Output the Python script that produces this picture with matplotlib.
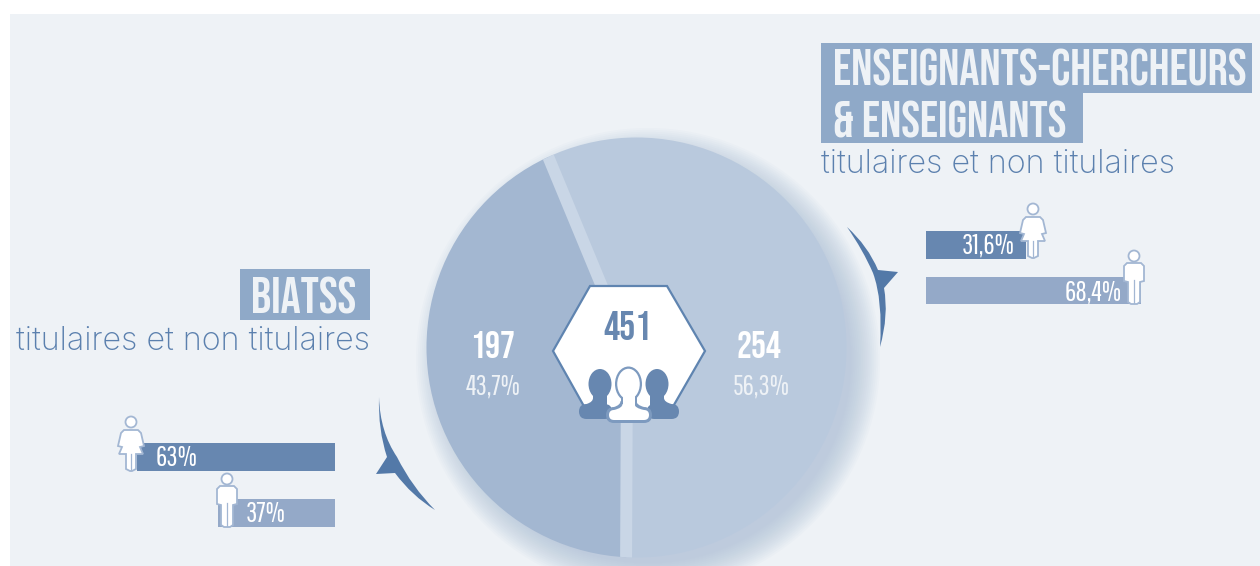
import matplotlib
matplotlib.use('Agg')
import matplotlib.pyplot as plt
import matplotlib.patches as patches
from matplotlib.path import Path
import numpy as np

# donnees
totals = [254, 197]
total_label = '451'
total_texts = ['254', '197']
share_texts = ['56,3%', '43,7%']
ens_gender = [31.6, 68.4]
ens_gender_txt = ['31,6%', '68,4%']
biatss_gender = [63, 37]
biatss_gender_txt = ['63%', '37%']
title_ens = ['ENSEIGNANTS-CHERCHEURS', '& ENSEIGNANTS']
title_biatss = 'BIATSS'
subtitle = 'titulaires et non titulaires'

BG = '#eef2f6'
DARK = '#6787b0'
LIGHT = '#94a9c8'
BOX = '#8fa9c8'
TXT_BLUE = '#5b80ae'
ARROW = '#5379a8'
HEAD_FONT = ['Bebas Neue', 'DejaVu Sans']
THIN_FONT = ['Pathway Gothic One', 'DejaVu Sans']

fig = plt.figure(figsize=(12.6, 5.66), dpi=100)
ax = fig.add_axes([0, 0, 1, 1])


def curve(points, color, z=6):
    verts, codes = [points[0]], [Path.MOVETO]
    for p in points[1:]:
        if len(p) == 4:
            verts += [(p[0], p[1]), (p[2], p[3])]
            codes += [Path.CURVE3, Path.CURVE3]
        else:
            verts.append(p)
            codes.append(Path.LINETO)
    verts.append(points[0])
    codes.append(Path.CLOSEPOLY)
    ax.add_patch(patches.PathPatch(Path(verts, codes), facecolor=color, edgecolor='none', zorder=z))


def woman(cx, top):
    ec = '#a3b7d3'
    pts = [(cx-7, top+14), (cx+7, top+14), (cx+10, top+17), (cx+13, top+30), (cx+9, top+31),
           (cx+12, top+38), (cx+5, top+38), (cx+5, top+53), (cx+1, top+55), (cx-1, top+55),
           (cx-5, top+53), (cx-5, top+38), (cx-12, top+38), (cx-9, top+31), (cx-13, top+30), (cx-10, top+17)]
    ax.add_patch(patches.Polygon(pts, closed=True, facecolor='white', edgecolor=ec, lw=1.3, zorder=7))
    ax.add_patch(patches.Circle((cx, top+6), 5.5, facecolor='white', edgecolor=ec, lw=1.3, zorder=7))
    ax.plot([cx, cx], [top+38, top+54], color=ec, lw=0.9, zorder=8)


def man(cx, top):
    ec = '#a3b7d3'
    pts = [(cx-7, top+13), (cx+7, top+13), (cx+10, top+16), (cx+10, top+31), (cx+6, top+32),
           (cx+6, top+52), (cx+3, top+54), (cx-3, top+54), (cx-6, top+52), (cx-6, top+32),
           (cx-10, top+31), (cx-10, top+16)]
    ax.add_patch(patches.Polygon(pts, closed=True, facecolor='white', edgecolor=ec, lw=1.3, zorder=7))
    ax.add_patch(patches.Circle((cx, top+6), 5.5, facecolor='white', edgecolor=ec, lw=1.3, zorder=7))
    ax.plot([cx, cx], [top+30, top+53], color=ec, lw=0.9, zorder=8)


def bust(cx, head_y, w, h, neck, x0, x1, y0, y1, color, z):
    # tete + cou + epaules
    ax.add_patch(patches.Ellipse((cx, head_y), w, h, facecolor=color, edgecolor='none', zorder=z))
    ax.add_patch(patches.Rectangle((cx-neck, head_y), 2*neck, y0-head_y+4, facecolor=color, edgecolor='none', zorder=z))
    r = (y1-y0)/2
    curve([(cx-neck, y0-6), (cx-neck, y0-2, x0+r, y0), (x0, y0, x0, y0+r), (x0, y1, x0+r, y1), (x1-r, y1),
           (x1, y1, x1, y0+r), (x1, y0, x1-r, y0), (cx+neck, y0-2, cx+neck, y0-6)], color, z)


# fond
ax.add_patch(patches.Rectangle((10, 14), 1250, 552, facecolor=BG, edgecolor='none', zorder=0))

# ombre du camembert, vers le bas a droite
for i in range(16):
    ax.add_patch(patches.Circle((648, 360), 232 - i*1.9, facecolor='#a3b8d2', edgecolor='none', alpha=0.05, zorder=1))

# camembert : sommet cache sous l'hexagone, decoupe par le disque
disc = patches.Circle((636.5, 347.5), 210, transform=ax.transData)
apex = (627, 347)
start = 112.5
wedges, _ = ax.pie(totals, colors=['#b9c9dd', '#a3b7d1'], center=apex, radius=245,
                   startangle=-start, counterclock=True, frame=False,
                   wedgeprops=dict(edgecolor='none', zorder=2))
for w in wedges:
    w.set_clip_on(True)
    w.set_clip_path(disc)

# fente blanche entre les deux parts
for a in [start, start - 360*totals[0]/sum(totals)]:
    line, = ax.plot([apex[0], apex[0] + 245*np.cos(np.radians(a))],
                    [apex[1], apex[1] - 245*np.sin(np.radians(a))],
                    color='#c9d6e6', lw=8.6, solid_capstyle='butt', zorder=3)
    line.set_clip_path(disc)

# fleches
curve([(847, 227), (868, 246, 878, 270), (898, 272), (884, 288), (889, 315, 880, 347),
       (883, 300, 873, 273), (863, 250, 847, 227)], ARROW)
curve([(379, 397), (380, 432, 397, 457), (412, 487, 435, 510), (412, 496, 395, 473),
       (376, 474), (387, 457), (378, 430, 379, 397)], ARROW)

# barres
bar_scale = 3.15
ax.barh([245, 290.5], [v*bar_scale for v in ens_gender], left=926, height=[28, 27],
        color=[DARK, LIGHT], zorder=5)
ax.barh([457, 513], [v*bar_scale for v in biatss_gender],
        left=[335 - v*bar_scale for v in biatss_gender], height=28,
        color=[DARK, LIGHT], zorder=5)
woman(1033, 203)
man(1134, 250)
woman(131, 416)
man(227, 473)

pct_kw = dict(color='white', family=THIN_FONT, fontsize=20, va='center', zorder=9)
ax.text(1015, 246, ens_gender_txt[0], ha='right', **pct_kw)
ax.text(1122, 293, ens_gender_txt[1], ha='right', **pct_kw)
ax.text(156, 458, biatss_gender_txt[0], ha='left', **pct_kw)
ax.text(246, 514, biatss_gender_txt[1], ha='left', **pct_kw)

# titres
ax.add_patch(patches.Rectangle((821, 43), 431, 50, facecolor=BOX, edgecolor='none', zorder=3))
ax.add_patch(patches.Rectangle((821, 93), 262, 50, facecolor=BOX, edgecolor='none', zorder=3))
ax.add_patch(patches.Rectangle((240, 269), 130, 51, facecolor=BOX, edgecolor='none', zorder=3))
head_kw = dict(color=BG, family=HEAD_FONT, fontsize=36, va='center', zorder=4)
ax.text(833, 68, title_ens[0], ha='left', **head_kw)
ax.text(833, 119, title_ens[1], ha='left', **head_kw)
ax.text(304, 295, title_biatss, ha='center', **head_kw)
sub_kw = dict(color=TXT_BLUE, family=['Inter', 'DejaVu Sans'], fontweight='light', fontsize=23.3, va='center', zorder=4)
ax.text(821, 164, subtitle, ha='left', **sub_kw)
ax.text(370, 341, subtitle, ha='right', **sub_kw)

# hexagone central
hexa = [(590, 286), (667, 286), (705, 351), (667, 417), (590, 417), (553, 351)]
ax.add_patch(patches.Polygon(hexa, closed=True, facecolor='white', edgecolor='#5f84b0', lw=1.6, zorder=5))
ax.text(628, 326, total_label, color=DARK, family=HEAD_FONT, fontsize=29,
        ha='center', va='center', zorder=9)

# personnes
bust(600, 384, 23, 30, 7, 579, 612, 404, 419, DARK, 6)
bust(657, 384, 23, 30, 7, 647, 679, 404, 419, DARK, 6)
bust(628.5, 384, 27, 35, 8, 606, 652, 407, 423, '#7d9abf', 7)
bust(628.5, 384, 22.5, 30.5, 6, 609, 649, 410, 420, 'white', 8)

# valeurs du camembert
big_kw = dict(color='white', family=HEAD_FONT, fontsize=27, ha='center', va='center', zorder=9)
small_kw = dict(color=BG, family=THIN_FONT, fontsize=20, ha='center', va='center', zorder=9)
ax.text(759, 344, total_texts[0], **big_kw)
ax.text(493, 344, total_texts[1], **big_kw)
ax.text(761, 387, share_texts[0], **small_kw)
ax.text(493, 387, share_texts[1], **small_kw)

ax.set_xlim(0, 1260)
ax.set_ylim(566, 0)
ax.set_aspect('auto')
ax.axis('off')

fig.savefig('out.png', dpi=100, facecolor='white')
